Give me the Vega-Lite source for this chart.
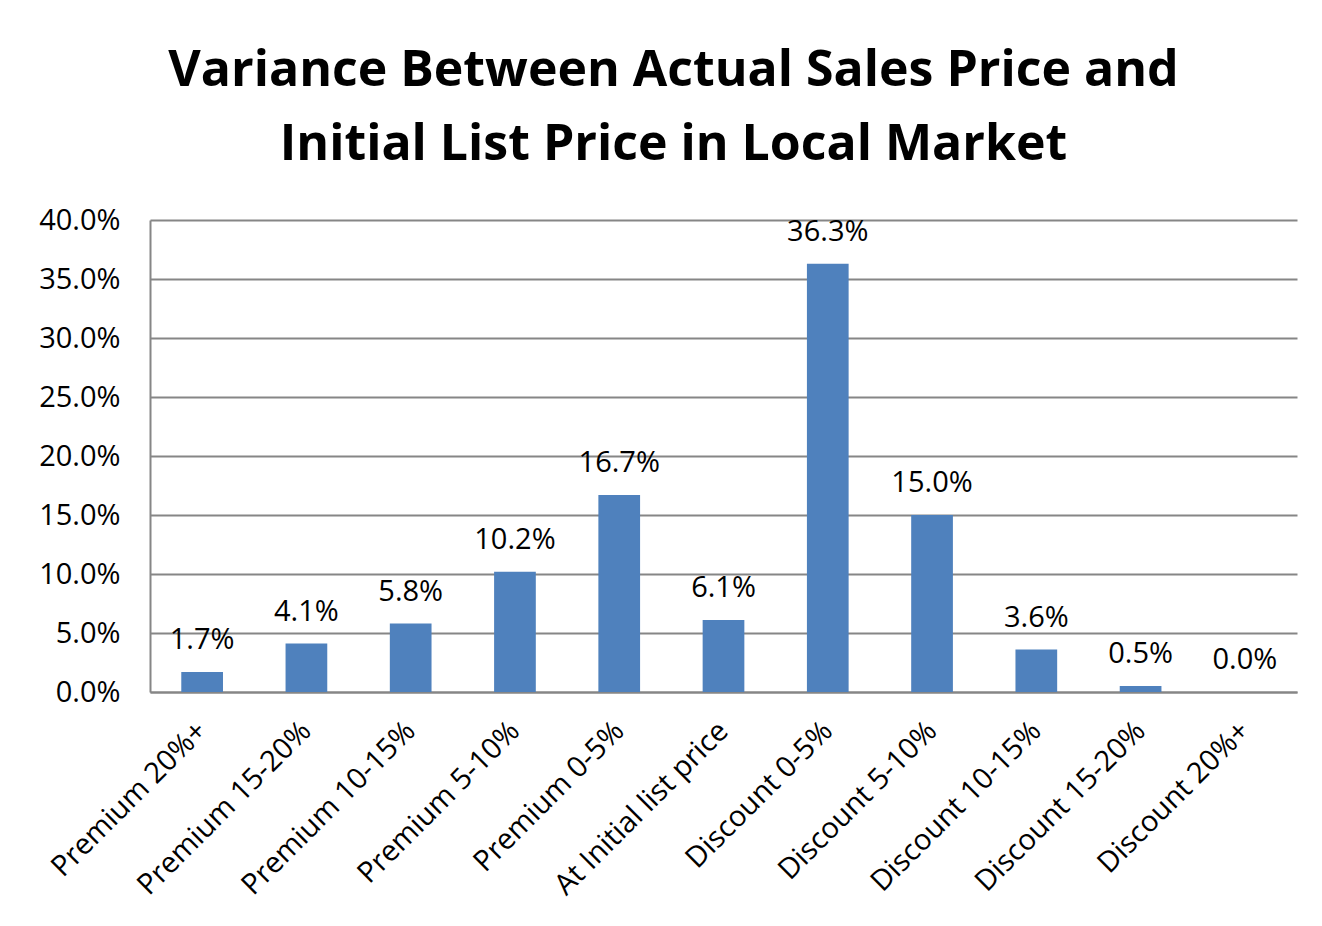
{
  "$schema": "https://vega.github.io/schema/vega-lite/v6.json",
  "autosize": "none",
  "width": 1147,
  "height": 472,
  "padding": {"left": 150, "top": 220, "right": 25, "bottom": 234},
  "background": "white",
  "title": {
    "text": ["Variance Between Actual Sales Price and", "Initial List Price in Local Market"],
    "font": "Open Sans",
    "fontSize": 50,
    "fontWeight": "bold",
    "color": "black",
    "lineHeight": 74,
    "anchor": "middle",
    "dx": -50,
    "offset": 36
  },
  "data": {
    "values": [
      {"cat": "Premium 20%+", "v": 0.017},
      {"cat": "Premium 15-20%", "v": 0.041},
      {"cat": "Premium 10-15%", "v": 0.058},
      {"cat": "Premium 5-10%", "v": 0.102},
      {"cat": "Premium 0-5%", "v": 0.167},
      {"cat": "At Initial list price", "v": 0.061},
      {"cat": "Discount 0-5%", "v": 0.363},
      {"cat": "Discount 5-10%", "v": 0.150},
      {"cat": "Discount 10-15%", "v": 0.036},
      {"cat": "Discount 15-20%", "v": 0.005},
      {"cat": "Discount 20%+", "v": 0.000}
    ]
  },
  "config": {
    "view": {"stroke": null},
    "font": "Open Sans"
  },
  "encoding": {
    "x": {
      "field": "cat", "type": "nominal", "sort": null,
      "scale": {"paddingInner": 0.6, "paddingOuter": 0.3},
      "axis": {
        "title": null, "labelAngle": -45, "labelFontSize": 29, "labelColor": "black",
        "labelFont": "Open Sans", "domainColor": "#868686", "domainWidth": 2, "labelLimit": 0,
        "ticks": false, "labelPadding": 34, "labelAlign": "right", "labelBaseline": "middle"
      }
    },
    "y": {
      "field": "v", "type": "quantitative",
      "scale": {"domain": [0, 0.4]},
      "axis": {
        "title": null, "format": ".1%", "values": [0, 0.05, 0.1, 0.15, 0.2, 0.25, 0.3, 0.35, 0.4],
        "labelFontSize": 29, "labelColor": "black", "labelFont": "Open Sans",
        "gridColor": "#868686", "gridWidth": 2, "domainColor": "#868686", "domainWidth": 2,
        "ticks": false, "labelPadding": 30
      }
    }
  },
  "layer": [
    {"mark": {"type": "bar", "color": "#4F81BD"}},
    {
      "mark": {"type": "text", "baseline": "alphabetic", "dy": -23, "fontSize": 29, "color": "black", "font": "Open Sans"},
      "encoding": {"text": {"field": "v", "type": "quantitative", "format": ".1%"}}
    }
  ]
}
